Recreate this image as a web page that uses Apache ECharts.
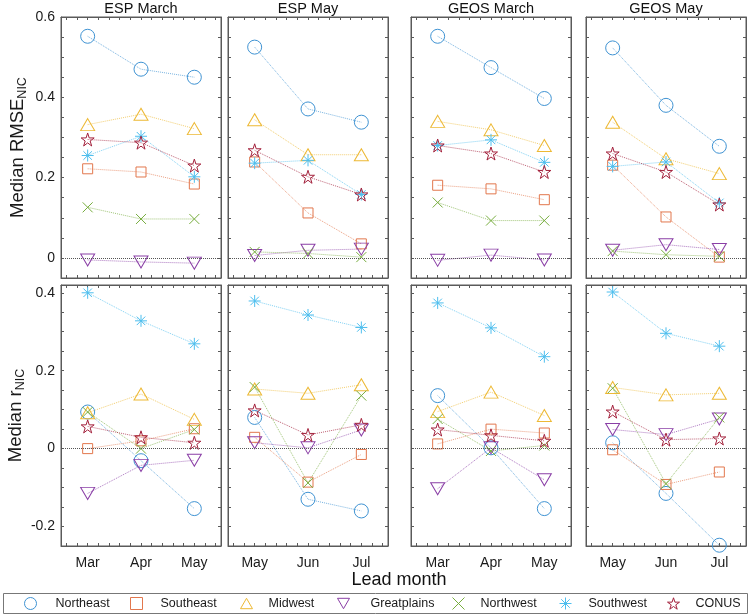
<!DOCTYPE html>
<html>
<head>
<meta charset="utf-8">
<script src="https://cdn.jsdelivr.net/npm/echarts@6/dist/echarts.min.js"></script>
<style>html,body{margin:0;padding:0;background:#fff}#c{width:750px;height:616px}</style>
</head>
<body>
<div id="c"></div>
<script>
// ---------- data ----------
const regions = ['Northeast', 'Southeast', 'Midwest', 'Greatplains', 'Northwest', 'Southwest', 'CONUS'];
const panelTitles = ['ESP March', 'ESP May', 'GEOS March', 'GEOS May'];
const monthsMarch = ['Mar', 'Apr', 'May'];
const monthsMay = ['May', 'Jun', 'Jul'];

// rows: Northeast, Southeast, Midwest, Greatplains, Northwest, Southwest, CONUS
const rmseEspMarch = [
  [0.552, 0.470, 0.450],
  [0.222, 0.214, 0.184],
  [0.332, 0.358, 0.322],
  [-0.005, -0.010, -0.013],
  [0.126, 0.097, 0.097],
  [0.255, 0.303, 0.202],
  [0.295, 0.287, 0.230]
];
const rmseEspMay = [
  [0.525, 0.371, 0.338],
  [0.239, 0.112, 0.035],
  [0.344, 0.257, 0.257],
  [0.006, 0.019, 0.022],
  [0.015, 0.011, 0.002],
  [0.236, 0.243, 0.158],
  [0.268, 0.202, 0.158]
];
const rmseGeosMarch = [
  [0.552, 0.474, 0.397],
  [0.181, 0.172, 0.145],
  [0.340, 0.319, 0.280],
  [-0.006, 0.007, -0.005],
  [0.138, 0.093, 0.093],
  [0.280, 0.294, 0.238],
  [0.280, 0.260, 0.214]
];
const rmseGeosMay = [
  [0.523, 0.380, 0.278],
  [0.231, 0.102, 0.002],
  [0.338, 0.247, 0.210],
  [0.019, 0.033, 0.021],
  [0.017, 0.008, 0.004],
  [0.228, 0.239, 0.137],
  [0.260, 0.214, 0.133]
];
const rEspMarch = [
  [0.094, -0.031, -0.154],
  [0.000, 0.020, 0.051],
  [0.092, 0.140, 0.075],
  [-0.115, -0.043, -0.030],
  [0.094, 0.000, 0.049],
  [0.400, 0.328, 0.269],
  [0.057, 0.029, 0.015]
];
const rEspMay = [
  [0.080, -0.130, -0.160],
  [0.029, -0.086, -0.015],
  [0.153, 0.142, 0.164],
  [0.015, 0.002, 0.048],
  [0.158, -0.088, 0.136],
  [0.379, 0.343, 0.311],
  [0.098, 0.035, 0.061]
];
const rGeosMarch = [
  [0.136, 0.002, -0.154],
  [0.012, 0.050, 0.040],
  [0.095, 0.145, 0.085],
  [-0.103, 0.002, -0.080],
  [0.076, -0.006, 0.008],
  [0.374, 0.310, 0.236],
  [0.049, 0.034, 0.020]
];
const rGeosMay = [
  [0.015, -0.115, -0.248],
  [-0.003, -0.092, -0.060],
  [0.157, 0.138, 0.142],
  [0.049, 0.036, 0.076],
  [0.155, -0.090, 0.080],
  [0.402, 0.296, 0.263],
  [0.095, 0.023, 0.026]
];

// tick labels / tick positions
const xTickValues = [0.6, 0.8, 1.0, 1.2, 1.4, 1.6, 1.8, 2.0, 2.2, 2.4, 2.6, 2.8, 3.0, 3.2, 3.4];
const xLabelValues = [1, 2, 3];
const rmseTickValues = [-0.05, 0, 0.05, 0.1, 0.15, 0.2, 0.25, 0.3, 0.35, 0.4, 0.45, 0.5, 0.55, 0.6];
const rmseLabelValues = [0, 0.2, 0.4, 0.6];
const rTickValues = [-0.25, -0.2, -0.15, -0.1, -0.05, 0, 0.05, 0.1, 0.15, 0.2, 0.25, 0.3, 0.35, 0.4];
const rLabelValues = [-0.2, 0, 0.2, 0.4];

// ---------- style ----------
const FONT = "'Liberation Sans', Arial, Helvetica, sans-serif";
const colors = ['#3f93d3', '#e2774d', '#edb935', '#8a3fa6', '#77ad3e', '#4dbeee', '#a3203b'];
const STAR = 'path://M50,0L61.23,34.55L97.55,34.55L68.17,55.9L79.39,90.45L50,69.1L20.61,90.45L31.83,55.9L2.45,34.55L38.77,34.55Z';
const symbols = [
  'circle',
  'rect',
  'path://M5,0L10,8.66L0,8.66Z',
  'path://M0,0L10,0L5,8.66Z',
  'path://M0,0L10,10M10,0L0,10',
  'path://M5,0L5,10M0,5L10,5M1.46,1.46L8.54,8.54M8.54,1.46L1.46,8.54',
  STAR
];
const symbolSizes = [14, 10, [14, 12], [14, 12], 10, 12, 13];
const legendIcons = symbols;

const colLefts = [61, 228, 411, 586];
const colWidth = 160;
const rowTops = [17, 285];
const rowHeights = [261, 261];

const panels = [
  [rmseEspMarch, rmseEspMay, rmseGeosMarch, rmseGeosMay],
  [rEspMarch, rEspMay, rGeosMarch, rGeosMay]
];
const panelMonths = [monthsMarch, monthsMay, monthsMarch, monthsMay];
const rowRanges = [[-0.05, 0.6], [-0.25, 0.42]];
const rowTicks = [rmseTickValues, rTickValues];
const rowLabels = [rmseLabelValues, rLabelValues];
const rowNames = ['{a|Median RMSE}{b|NIC}', '{a|Median r}{b|NIC}'];

const grids = [], xAxes = [], yAxes = [], series = [];
const axisColor = '#5a5a5a';

for (let r = 0; r < 2; r++) {
  for (let c = 0; c < 4; c++) {
    const g = r * 4 + c;
    grids.push({
      left: colLefts[c], top: rowTops[r], width: colWidth, height: rowHeights[r],
      show: true, borderColor: axisColor, borderWidth: 1, backgroundColor: '#fff'
    });
    const months = panelMonths[c];
    const xBase = {
      type: 'value', gridIndex: g, min: 0.5, max: 3.5,
      splitLine: { show: false },
      axisLine: { show: true, onZero: false, lineStyle: { color: axisColor, width: 1 } },
      axisTick: { show: true, inside: true, length: 3, customValues: xTickValues, lineStyle: { color: axisColor } }
    };
    xAxes.push(Object.assign({}, xBase, {
      position: 'bottom',
      axisLabel: {
        show: r === 1, customValues: xLabelValues, margin: 10,
        fontSize: 14, color: '#1a1a1a', fontFamily: FONT,
        formatter: v => months[Math.round(v) - 1]
      }
    }));
    xAxes.push(Object.assign({}, xBase, { position: 'top', axisLabel: { show: false } }));
    const yBase = {
      type: 'value', gridIndex: g, min: rowRanges[r][0], max: rowRanges[r][1],
      splitLine: { show: false },
      axisLine: { show: true, onZero: false, lineStyle: { color: axisColor, width: 1 } },
      axisTick: { show: true, inside: true, length: 3, customValues: rowTicks[r], lineStyle: { color: axisColor } }
    };
    const yLeft = Object.assign({}, yBase, {
      position: 'left',
      axisLabel: {
        show: c === 0, customValues: rowLabels[r], margin: 6,
        fontSize: 14, color: '#1a1a1a', fontFamily: FONT,
        formatter: v => String(Math.round(v * 10) / 10)
      }
    });
    if (c === 0) {
      Object.assign(yLeft, {
        name: rowNames[r], nameLocation: 'middle', nameRotate: 90, nameGap: 32,
        nameTextStyle: {
          fontFamily: FONT, color: '#1a1a1a',
          rich: {
            a: { fontSize: 18.5, fontFamily: FONT, color: '#1a1a1a' },
            b: { fontSize: 12.5, fontFamily: FONT, color: '#1a1a1a', verticalAlign: 'bottom', padding: [9, 0, 0, 0] }
          }
        }
      });
    }
    yAxes.push(yLeft);
    yAxes.push(Object.assign({}, yBase, { position: 'right', axisLabel: { show: false } }));

    const vals = panels[r][c];
    regions.forEach((name, k) => {
      const s = {
        name: name, type: 'line',
        xAxisIndex: 2 * g, yAxisIndex: 2 * g,
        data: vals[k].map((v, i) => [xLabelValues[i], v]),
        symbol: symbols[k], symbolSize: symbolSizes[k],
        color: colors[k],
        lineStyle: { color: colors[k], width: 1, type: 'dotted', opacity: 0.7 },
        itemStyle: { color: 'rgba(0,0,0,0)', borderColor: colors[k], borderWidth: 1 },
        emphasis: { disabled: true },
        animation: false,
        z: 3
      };
      if (k === 0) {
        s.markLine = {
          silent: true, symbol: 'none', animation: false,
          label: { show: false },
          lineStyle: { color: '#555', type: 'dotted', width: 1 },
          data: [{ yAxis: 0 }]
        };
      }
      series.push(s);
    });
  }
}

const titles = panelTitles.map((t, c) => ({
  text: t, left: colLefts[c] + colWidth / 2, top: 1, textAlign: 'center', padding: 0,
  textStyle: { fontSize: 14.5, fontWeight: 'normal', color: '#111', fontFamily: FONT }
}));
titles.push({
  text: 'Lead month', left: 399, top: 571, textAlign: 'center', padding: 0,
  textStyle: { fontSize: 18, fontWeight: 'normal', color: '#111', fontFamily: FONT }
});

const legendIconCenters = [30, 136, 246, 343, 458, 565, 673];
const legendTextStarts = [55, 160, 268, 370, 480, 588, 695];
const legends = regions.map((name, k) => ({
  left: legendIconCenters[k] - 6, top: 597, padding: 0,
  itemWidth: 12, itemHeight: 12, selectedMode: false,
  textStyle: { fontSize: 12.5, color: '#1a1a1a', fontFamily: FONT,
    padding: [0, 0, 0, legendTextStarts[k] - legendIconCenters[k] - 11] },
  data: [{
    name: name, icon: legendIcons[k],
    itemStyle: { color: 'rgba(0,0,0,0)', borderColor: colors[k], borderWidth: 1 }
  }]
}));

const chart = echarts.init(document.getElementById('c'), null, { renderer: 'canvas' });
chart.setOption({
  animation: false,
  backgroundColor: '#fff',
  title: titles,
  legend: legends,
  grid: grids,
  xAxis: xAxes,
  yAxis: yAxes,
  series: series,
  graphic: [{
    type: 'rect', z: -1, silent: true,
    shape: { x: 3.5, y: 593.5, width: 744, height: 20 },
    style: { fill: '#fff', stroke: '#777', lineWidth: 1 }
  }]
});
</script>
</body>
</html>
